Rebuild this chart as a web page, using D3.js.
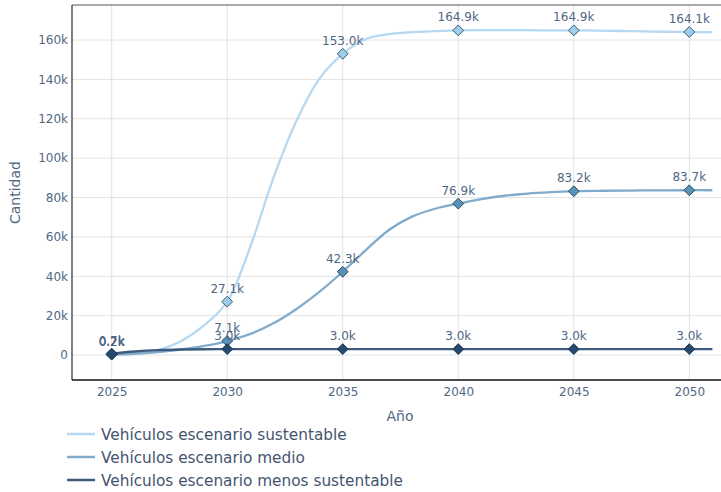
<!DOCTYPE html>
<html>
<head>
<meta charset="utf-8">
<script src="https://cdn.jsdelivr.net/npm/d3@7"></script>
<style>
  html, body { margin: 0; padding: 0; background: #fff; }
  svg { display: block; font-family: "DejaVu Sans", Verdana, sans-serif; }
</style>
</head>
<body>
<svg id="chart" width="721" height="492"></svg>
<script>
// ---- Data ----
const years = [2025,2026,2027,2028,2029,2030,2031,2032,2033,2034,2035,2036,2037,2038,2039,2040,2041,2042,2043,2044,2045,2046,2047,2048,2049,2050,2051];
const sustentable = [200,800,2500,7000,15000,27100,55000,90000,119000,140500,153000,160500,163000,164000,164500,164900,165000,165000,165000,164900,164900,164800,164600,164400,164200,164100,164000];
const medio = [200,600,1500,2800,4600,7100,10700,16100,23400,32200,42300,53300,63500,70300,74300,76900,79200,80900,82000,82700,83200,83400,83500,83600,83600,83700,83700];
const menos = [700,1800,2500,2800,2900,3000,3000,3000,3000,3000,3000,3000,3000,3000,3000,3000,3000,3000,3000,3000,3000,3000,3000,3000,3000,3000,3000];
const seriesNames = ["Vehículos escenario sustentable","Vehículos escenario medio","Vehículos escenario menos sustentable"];
const markerYears = [2025,2030,2035,2040,2045,2050];
const xTicks = [2025,2030,2035,2040,2045,2050];
const yTicks = [0,20000,40000,60000,80000,100000,120000,140000,160000];

const lineColors = ["#b5d8f3","#80abcc","#3d5b7e"];
const markerFills = ["#9ccdf0","#5a91b7","#254a6e"];
const markerStrokes = ["#3f5f68","#2e4e60","#1b3650"];

(function () {
// ---- Layout ----
const svg = d3.select("#chart");
const pL = 72, pR = 721, pT = 5, pB = 380;

const x = d3.scaleLinear().domain([2023.282, 2051.372]).range([pL, pR]);
const y = d3.scaleLinear().domain([-12700, 177800]).range([pB, pT]);

const g = svg.append("g");

// grid
g.append("g").selectAll("line").data(yTicks).join("line")
  .attr("x1", pL).attr("x2", pR)
  .attr("y1", d => y(d)).attr("y2", d => y(d))
  .attr("stroke", "#e3e3e3").attr("stroke-width", 1);
g.append("g").selectAll("line").data(xTicks).join("line")
  .attr("y1", pT).attr("y2", pB)
  .attr("x1", d => x(d)).attr("x2", d => x(d))
  .attr("stroke", "#e3e3e3").attr("stroke-width", 1);

// axes via d3
const yAxis = d3.axisLeft(y).tickValues(yTicks).tickSize(0).tickPadding(4)
  .tickFormat(d => d === 0 ? "0" : (d / 1000) + "k");
const yg = g.append("g").attr("transform", `translate(${pL},0)`).call(yAxis);
yg.select(".domain").remove();
yg.selectAll("text").attr("fill", "#506784").style("font-size", "12px")
  .style("font-family", "DejaVu Sans, Verdana, sans-serif");

const xAxis = d3.axisBottom(x).tickValues(xTicks).tickSize(0).tickPadding(7)
  .tickFormat(d3.format("d"));
const xg = g.append("g").attr("transform", `translate(0,${pB})`).call(xAxis);
xg.select(".domain").remove();
xg.selectAll("text").attr("fill", "#506784").style("font-size", "12px")
  .style("font-family", "DejaVu Sans, Verdana, sans-serif");

// frame lines
g.append("line").attr("x1", pL).attr("x2", pR).attr("y1", pT).attr("y2", pT)
  .attr("stroke", "#555").attr("stroke-width", 1);
g.append("line").attr("x1", pL).attr("x2", pL).attr("y1", pT).attr("y2", pB)
  .attr("stroke", "#555").attr("stroke-width", 1.5);
g.append("line").attr("x1", pL).attr("x2", pR).attr("y1", pB).attr("y2", pB)
  .attr("stroke", "#111").attr("stroke-width", 1.5);

// axis titles
svg.append("text").attr("x", (pL + 728) / 2).attr("y", 421)
  .attr("text-anchor", "middle").attr("fill", "#506784").style("font-size", "14px").text("Año");
svg.append("text").attr("transform", `translate(20,${(pT + pB) / 2}) rotate(-90)`)
  .attr("text-anchor", "middle").attr("fill", "#506784").style("font-size", "14px").text("Cantidad");

// series
const allSeries = [sustentable, medio, menos];
const line = d3.line().x(d => x(d[0])).y(d => y(d[1])).curve(d3.curveCatmullRom.alpha(0.5));
svg.append("clipPath").attr("id", "clip").append("rect")
  .attr("x", pL).attr("y", pT).attr("width", pR - pL).attr("height", pB - pT);

const plot = g.append("g").attr("clip-path", "url(#clip)");
const diamond = d3.symbol().type(d3.symbolDiamond2 || d3.symbolDiamond).size(75);

const widths = [2.3, 2.3, 2.4];
allSeries.forEach((vals, i) => {
  const pts = years.map((yr, j) => [yr, vals[j]]);
  plot.append("path").datum(pts).attr("d", line)
    .attr("fill", "none").attr("stroke", lineColors[i]).attr("stroke-width", widths[i]);
});
allSeries.forEach((vals, i) => {
  const pts = years.map((yr, j) => [yr, vals[j]]).filter(p => markerYears.includes(p[0]));
  g.append("g").selectAll("path").data(pts).join("path")
    .attr("d", diamond)
    .attr("transform", d => `translate(${x(d[0])},${y(d[1])})`)
    .attr("fill", markerFills[i]).attr("stroke", markerStrokes[i]).attr("stroke-width", 1);
});
allSeries.forEach((vals, i) => {
  const pts = years.map((yr, j) => [yr, vals[j]]).filter(p => markerYears.includes(p[0]));
  g.append("g").selectAll("text").data(pts).join("text")
    .attr("x", d => x(d[0])).attr("y", d => y(d[1]) - 9)
    .attr("text-anchor", "middle").attr("fill", "#506784").style("font-size", "12px")
    .text(d => (d[1] / 1000).toFixed(1) + "k");
});

// legend
const lg = svg.append("g");
seriesNames.forEach((name, i) => {
  const yy = 434 + i * 23;
  lg.append("line").attr("x1", 67).attr("x2", 95).attr("y1", yy).attr("y2", yy)
    .attr("stroke", lineColors[i]).attr("stroke-width", 2.5);
  lg.append("text").attr("x", 101).attr("y", yy + 5.5).attr("fill", "#44546f")
    .style("font-size", "15.3px").text(name);
});
})();
</script>
</body>
</html>
